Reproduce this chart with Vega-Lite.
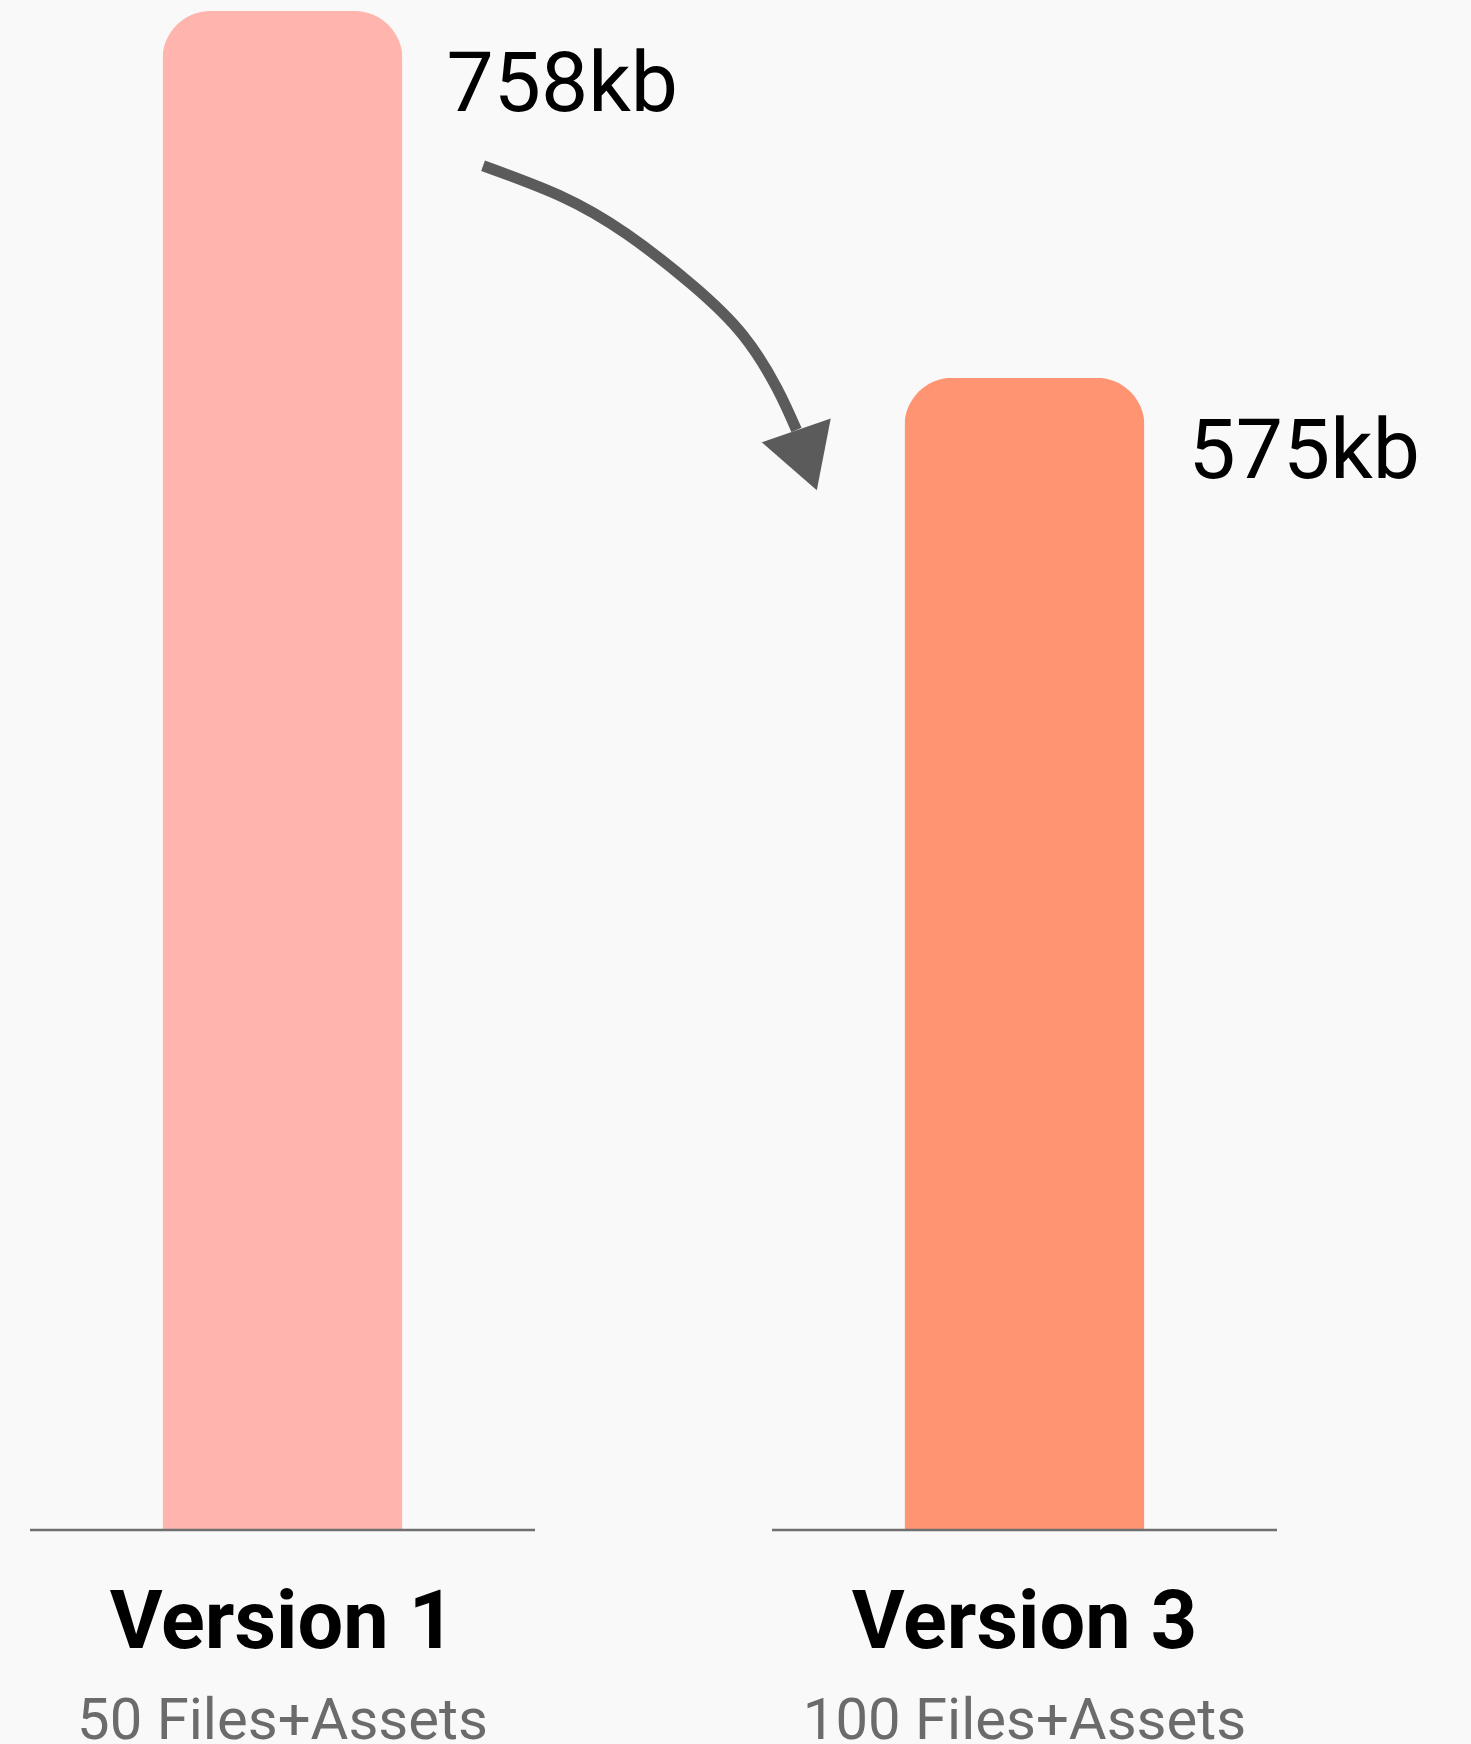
{
  "$schema": "https://vega.github.io/schema/vega-lite/v6.json",
  "width": 1247,
  "height": 1519,
  "autosize": {"type": "none"},
  "padding": {"left": 30, "top": 11, "right": 194, "bottom": 214},
  "background": "#f9f9f9",
  "config": {"view": {"stroke": null}, "font": "Roboto", "line": {"strokeWidth": 11}},
  "datasets": {
    "sizes": [
      {"version": "Version 1", "files": "50 Files+Assets", "kb": 758, "label": "758kb"},
      {"version": "Version 3", "files": "100 Files+Assets", "kb": 575, "label": "575kb"}
    ],
    "arrow": [
      {"t": 0.2705, "v": 680.8},
      {"t": 0.3743, "v": 665.8},
      {"t": 0.4642, "v": 646.7},
      {"t": 0.5541, "v": 620.8},
      {"t": 0.6215, "v": 596.0},
      {"t": 0.6665, "v": 570.0},
      {"t": 0.6932, "v": 548.9}
    ],
    "head": [{"t": 0.7067, "v": 533.8}]
  },
  "data": {"name": "sizes"},
  "resolve": {"scale": {"x": "independent"}, "axis": {"x": "independent"}},
  "layer": [
    {
      "mark": {"type": "bar", "width": 240, "cornerRadiusTopLeft": 48, "cornerRadiusTopRight": 48},
      "encoding": {
        "x": {
          "field": "version", "type": "nominal",
          "scale": {"type": "band", "domain": ["Version 1", "Version 3"], "paddingInner": 0.3194, "paddingOuter": 0},
          "axis": {
            "orient": "bottom", "title": null, "domain": false, "ticks": false, "tickSize": 0,
            "grid": false, "labelAngle": 0, "labelFontSize": 81, "labelFontWeight": "bold",
            "labelColor": "#000000", "labelBaseline": "alphabetic", "labelPadding": 117,
            "labelOverlap": false, "labelLimit": 0
          }
        },
        "y": {"field": "kb", "type": "quantitative", "scale": {"domain": [0, 758], "nice": false}, "axis": null},
        "color": {
          "field": "version", "type": "nominal",
          "scale": {"domain": ["Version 1", "Version 3"], "range": ["#ffb4ae", "#ff9473"]},
          "legend": null
        }
      }
    },
    {
      "mark": {"type": "rule", "stroke": "#707070", "strokeWidth": 2.5},
      "encoding": {
        "x": {
          "field": "files", "type": "nominal", "bandPosition": 0,
          "scale": {"type": "band", "domain": ["50 Files+Assets", "100 Files+Assets"], "paddingInner": 0.3194, "paddingOuter": 0},
          "axis": {
            "orient": "bottom", "title": null, "domain": false, "ticks": false, "tickSize": 0,
            "grid": false, "labelAngle": 0, "labelFontSize": 58, "labelFontWeight": "normal",
            "labelColor": "#6b6b6b", "labelBaseline": "alphabetic", "labelPadding": 208,
            "labelOverlap": false, "labelLimit": 0
          }
        },
        "x2": {"field": "files", "bandPosition": 1},
        "y": {"datum": 0, "type": "quantitative", "scale": {"domain": [0, 758], "nice": false}, "axis": null}
      }
    },
    {
      "mark": {"type": "text", "align": "left", "baseline": "alphabetic", "dx": 164, "dy": 100, "fontSize": 84, "color": "#000000"},
      "encoding": {
        "x": {
          "field": "version", "type": "nominal",
          "scale": {"type": "band", "domain": ["Version 1", "Version 3"], "paddingInner": 0.3194, "paddingOuter": 0},
          "axis": null
        },
        "y": {"field": "kb", "type": "quantitative", "scale": {"domain": [0, 758], "nice": false}, "axis": null},
        "text": {"field": "label", "type": "nominal"}
      }
    },
    {
      "data": {"name": "arrow"},
      "mark": {"type": "line", "interpolate": "natural", "stroke": "#5b5b5b", "strokeWidth": 11, "strokeCap": "butt"},
      "encoding": {
        "x": {"field": "t", "type": "quantitative", "scale": {"domain": [-0.3405, 1.3412], "nice": false, "zero": false}, "axis": null},
        "y": {"field": "v", "type": "quantitative", "scale": {"domain": [0, 758], "nice": false}, "axis": null}
      }
    },
    {
      "data": {"name": "head"},
      "mark": {"type": "point", "shape": "triangle-down", "size": 5329, "angle": 341, "filled": true, "fill": "#5b5b5b", "opacity": 1, "strokeWidth": 0},
      "encoding": {
        "x": {"field": "t", "type": "quantitative", "scale": {"domain": [-0.3405, 1.3412], "nice": false, "zero": false}, "axis": null},
        "y": {"field": "v", "type": "quantitative", "scale": {"domain": [0, 758], "nice": false}, "axis": null}
      }
    }
  ]
}
